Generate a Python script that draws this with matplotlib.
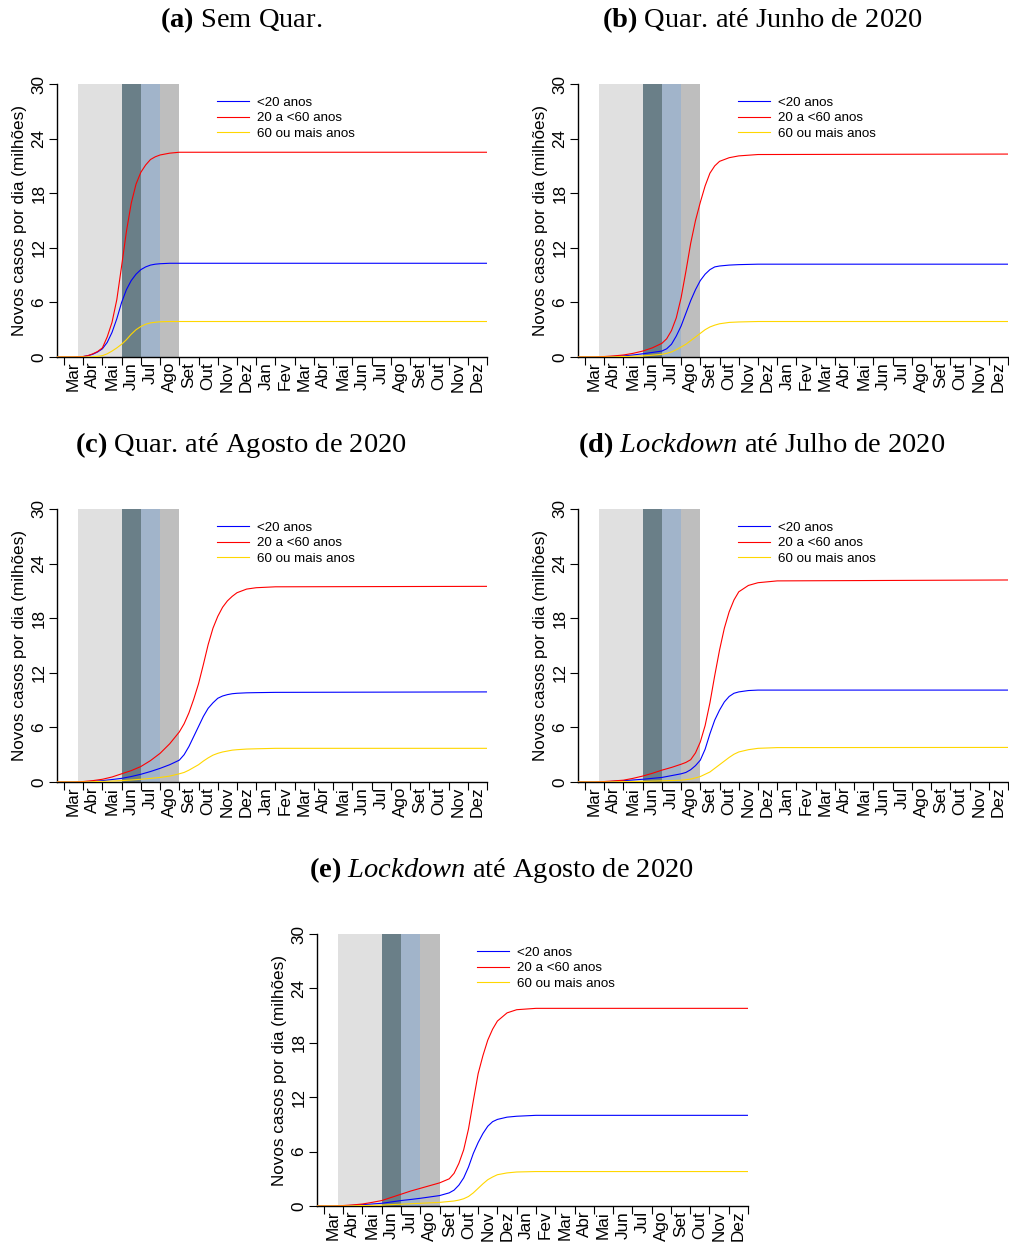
import matplotlib
matplotlib.use("Agg")
import matplotlib.pyplot as plt

# ---------------- data ----------------
month_labels = ['Mar', 'Abr', 'Mai', 'Jun', 'Jul', 'Ago', 'Set', 'Out', 'Nov', 'Dez',
                'Jan', 'Fev', 'Mar', 'Abr', 'Mai', 'Jun', 'Jul', 'Ago', 'Set', 'Out',
                'Nov', 'Dez']
y_ticks = [0, 6, 12, 18, 24, 30]
series_names = ['<20 anos', '20 a <60 anos', '60 ou mais anos']

# shaded periods (months since start of March 2020)
shade_start = [0.73, 3.0, 4.0, 5.0]
shade_end = [3.0, 4.0, 5.0, 6.0]

titles = [r'$\mathbf{(a)}$ Sem Quar.',
          r'$\mathbf{(b)}$ Quar. até Junho de 2020',
          r'$\mathbf{(c)}$ Quar. até Agosto de 2020',
          r'$\mathbf{(d)}$ $\mathit{Lockdown}$ até Julho de 2020',
          r'$\mathbf{(e)}$ $\mathit{Lockdown}$ até Agosto de 2020']

# panel (a)
t_a = [-0.36, 0.5, 1.0, 1.25, 1.5, 1.75, 2.0, 2.25, 2.5, 2.75, 3.0, 3.25, 3.5, 3.75,
       4.0, 4.25, 4.5, 4.75, 5.0, 5.5, 6.0, 7.0, 22.0]
blue_a = [0, 0, 0.05, 0.15, 0.3, 0.55, 0.9, 1.6, 2.7, 4.2, 6.0, 7.4, 8.4, 9.1,
          9.6, 9.9, 10.1, 10.2, 10.25, 10.3, 10.3, 10.3, 10.3]
red_a = [0, 0, 0.05, 0.15, 0.35, 0.6, 1.0, 2.2, 3.8, 6.3, 10.0, 13.8, 16.9, 19.0,
         20.3, 21.1, 21.7, 22.0, 22.2, 22.4, 22.5, 22.5, 22.5]
yellow_a = [0, 0, 0, 0, 0.02, 0.07, 0.15, 0.35, 0.65, 1.0, 1.4, 1.9, 2.5, 3.0,
            3.35, 3.6, 3.75, 3.82, 3.87, 3.9, 3.9, 3.9, 3.9]

# panel (b)
t_b = [-0.36, 0.5, 1.0, 1.5, 2.0, 2.5, 3.0, 3.5, 4.0, 4.25, 4.5, 4.75, 5.0, 5.25,
       5.5, 5.75, 6.0, 6.25, 6.5, 6.75, 7.0, 7.5, 8.0, 9.0, 22.0]
blue_b = [0, 0, 0.02, 0.06, 0.12, 0.22, 0.35, 0.5, 0.65, 0.9, 1.4, 2.3, 3.4, 4.8,
          6.2, 7.4, 8.4, 9.1, 9.6, 9.9, 10.0, 10.1, 10.15, 10.2, 10.2]
red_b = [0, 0, 0.05, 0.12, 0.22, 0.4, 0.65, 1.0, 1.5, 2.0, 2.9, 4.3, 6.5, 9.4,
         12.5, 15.0, 17.0, 18.8, 20.2, 21.0, 21.5, 21.9, 22.1, 22.25, 22.3]
yellow_b = [0, 0, 0, 0.02, 0.05, 0.08, 0.12, 0.2, 0.3, 0.4, 0.55, 0.8, 1.1, 1.4,
            1.8, 2.2, 2.6, 3.0, 3.3, 3.5, 3.65, 3.8, 3.85, 3.9, 3.9]

# panel (c)
t_c = [-0.36, 0.5, 1.0, 1.5, 2.0, 2.5, 3.0, 3.5, 4.0, 4.5, 5.0, 5.5, 6.0, 6.25,
       6.5, 6.75, 7.0, 7.25, 7.5, 7.75, 8.0, 8.25, 8.5, 8.75, 9.0, 9.5, 10.0, 11.0, 22.0]
blue_c = [0, 0, 0.02, 0.07, 0.15, 0.27, 0.4, 0.6, 0.85, 1.15, 1.5, 1.9, 2.4, 3.0,
          3.9, 5.0, 6.1, 7.2, 8.1, 8.7, 9.2, 9.45, 9.6, 9.7, 9.75, 9.8, 9.82, 9.85, 9.9]
red_c = [0, 0, 0.05, 0.15, 0.3, 0.55, 0.9, 1.25, 1.7, 2.35, 3.15, 4.2, 5.5, 6.4,
         7.6, 9.1, 10.8, 12.9, 15.1, 16.9, 18.2, 19.2, 19.9, 20.4, 20.8, 21.2, 21.35,
         21.45, 21.5]
yellow_c = [0, 0, 0, 0.03, 0.07, 0.1, 0.15, 0.22, 0.3, 0.4, 0.5, 0.65, 0.9, 1.05,
            1.3, 1.6, 1.9, 2.3, 2.65, 2.95, 3.15, 3.3, 3.4, 3.5, 3.55, 3.62, 3.65,
            3.7, 3.7]

# panel (d)
t_d = [-0.36, 0.5, 1.0, 1.5, 2.0, 2.5, 3.0, 3.5, 4.0, 4.5, 5.0, 5.25, 5.5, 5.75,
       6.0, 6.25, 6.5, 6.75, 7.0, 7.25, 7.5, 7.75, 8.0, 8.5, 9.0, 10.0, 22.0]
blue_d = [0, 0, 0.02, 0.07, 0.15, 0.22, 0.3, 0.4, 0.5, 0.7, 0.9, 1.05, 1.35, 1.8,
          2.4, 3.6, 5.3, 6.8, 7.9, 8.8, 9.4, 9.75, 9.9, 10.05, 10.1, 10.1, 10.1]
red_d = [0, 0, 0.05, 0.12, 0.2, 0.4, 0.65, 0.95, 1.3, 1.6, 1.95, 2.15, 2.45, 3.2,
         4.4, 6.2, 8.7, 11.7, 14.5, 16.9, 18.7, 20.0, 20.9, 21.6, 21.9, 22.1, 22.2]
yellow_d = [0, 0, 0, 0.02, 0.04, 0.05, 0.07, 0.1, 0.13, 0.16, 0.2, 0.25, 0.32, 0.45,
            0.6, 0.85, 1.1, 1.5, 1.9, 2.3, 2.7, 3.05, 3.3, 3.55, 3.7, 3.78, 3.8]

# panel (e)
t_e = [-0.36, 0.5, 1.0, 1.5, 2.0, 2.5, 3.0, 3.5, 4.0, 4.5, 5.0, 5.5, 6.0, 6.5,
       6.75, 7.0, 7.25, 7.5, 7.75, 8.0, 8.25, 8.5, 8.75, 9.0, 9.5, 10.0, 11.0, 22.0]
blue_e = [0, 0, 0.02, 0.07, 0.15, 0.22, 0.3, 0.45, 0.6, 0.72, 0.85, 1.0, 1.15, 1.45,
          1.75, 2.3, 3.1, 4.3, 5.8, 7.0, 8.0, 8.8, 9.3, 9.55, 9.8, 9.9, 10.0, 10.0]
red_e = [0, 0, 0.05, 0.12, 0.22, 0.4, 0.6, 0.95, 1.3, 1.65, 1.95, 2.25, 2.55, 3.0,
         3.6, 4.7, 6.2, 8.5, 11.6, 14.6, 16.6, 18.3, 19.5, 20.4, 21.3, 21.65, 21.8, 21.8]
yellow_e = [0, 0, 0, 0.02, 0.05, 0.07, 0.1, 0.15, 0.2, 0.25, 0.3, 0.35, 0.4, 0.5,
            0.55, 0.65, 0.8, 1.05, 1.45, 1.95, 2.45, 2.9, 3.2, 3.45, 3.65, 3.75, 3.8, 3.8]

# ---------------- style ----------------
plt.rcParams['font.family'] = ['Liberation Sans', 'DejaVu Sans']
plt.rcParams['mathtext.fontset'] = 'custom'
plt.rcParams['mathtext.rm'] = 'Liberation Serif'
plt.rcParams['mathtext.it'] = 'Liberation Serif:italic'
plt.rcParams['mathtext.bf'] = 'Liberation Serif:bold'

shade_colors = ['#E0E0E0', '#6A7F88', '#A1B4CA', '#BEBEBE']
line_colors = ['#0000FF', '#FF0000', '#FFD700']

W, H = 1009, 1245
fig = plt.figure(figsize=(W / 100, H / 100), dpi=100)

boxes = [(57, 487, 84, 357), (578, 1008, 84, 357),
         (57, 487, 509, 782), (578, 1008, 509, 782),
         (317, 748, 934, 1206)]
title_pos = [(241, 20), (762, 20), (241, 445), (762, 445), (501, 870)]

panels = [(t_a, blue_a, red_a, yellow_a), (t_b, blue_b, red_b, yellow_b),
          (t_c, blue_c, red_c, yellow_c), (t_d, blue_d, red_d, yellow_d),
          (t_e, blue_e, red_e, yellow_e)]

FS = 12.3
for (l, r, t, b), (tt, bl, rd, yl), title, (tx, ty) in zip(boxes, panels, titles, title_pos):
    ax = fig.add_axes([l / W, 1 - b / H, (r - l) / W, (b - t) / H])
    for s0, s1, c in zip(shade_start, shade_end, shade_colors):
        ax.axvspan(s0, s1, color=c, lw=0, zorder=0)
    for vals, c, name in zip((bl, rd, yl), line_colors, series_names):
        ax.plot(tt, vals, color=c, lw=0.8, label=name, zorder=3)
    ax.set_xlim(-0.36, 22)
    ax.set_ylim(0, 30)
    ax.spines['top'].set_visible(False)
    ax.spines['right'].set_visible(False)
    ax.spines['left'].set_linewidth(1.0)
    ax.spines['bottom'].set_linewidth(1.0)
    ax.set_xticks(range(0, 23))
    ax.set_xticklabels([])
    ax.set_xticks([i + 0.5 for i in range(22)], minor=True)
    ax.set_xticklabels(month_labels, minor=True, rotation=90, fontsize=FS)
    ax.tick_params(axis='x', which='major', length=6, width=0.8)
    ax.tick_params(axis='x', which='minor', length=0, pad=3.5)
    ax.set_yticks(y_ticks)
    ax.set_yticklabels([str(v) for v in y_ticks], rotation=90, va='center', fontsize=FS)
    ax.tick_params(axis='y', length=5.5, width=0.8, pad=2)
    ax.set_ylabel('Novos casos por dia (milhões)', fontsize=FS, labelpad=3.5)
    ax.legend(loc='upper left', bbox_to_anchor=(0.372, 0.953), frameon=False,
              fontsize=9.6, handlelength=2.4, handletextpad=0.6, labelspacing=0.22,
              borderaxespad=0, borderpad=0)
    fig.text(tx / W, 1 - ty / H, title, fontsize=20.5, family='Liberation Serif',
             ha='center', va='center')

fig.savefig('out.png', dpi=100)
